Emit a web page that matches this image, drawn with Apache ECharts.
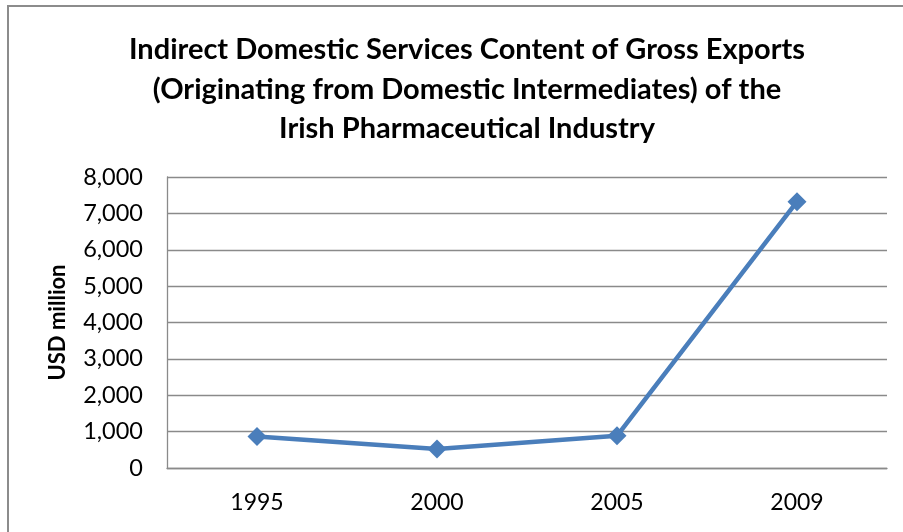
<!DOCTYPE html>
<html>
<head>
<meta charset="utf-8">
<script src="https://cdn.jsdelivr.net/npm/echarts@6/dist/echarts.min.js"></script>
<style>
html,body{margin:0;padding:0;background:#fff;}
#c{width:903px;height:532px;}
</style>
</head>
<body>
<div id="c"></div>
<script>
var titleLines = ['Indirect Domestic Services Content of Gross Exports', '(Originating from Domestic Intermediates) of the', 'Irish Pharmaceutical Industry'];
var years = ['1995', '2000', '2005', '2009'];
var values = [865, 520, 885, 7320];
var yTicks = [0, 1000, 2000, 3000, 4000, 5000, 6000, 7000, 8000];
var yName = 'USD million';

var chart = echarts.init(document.getElementById('c'), null, {renderer: 'canvas'});
var font = 'Lato';
chart.setOption({
  animation: false,
  backgroundColor: '#fff',
  title: {
    text: titleLines.join('\n'),
    left: 462,
    textAlign: 'center',
    top: 25,
    textStyle: {fontFamily: font, fontWeight: 'bold', fontSize: 29, lineHeight: 39.5, color: '#000'}
  },
  graphic: [{
    type: 'rect',
    shape: {x: 8, y: 6, width: 1000, height: 700},
    style: {fill: 'none', stroke: '#8c8c8c', lineWidth: 2},
    silent: true
  }],
  grid: {left: 167, right: 16, top: 177, bottom: 64, containLabel: false},
  xAxis: {
    type: 'category',
    data: years,
    boundaryGap: true,
    axisLine: {lineStyle: {color: '#8a8a8a', width: 1.3}},
    axisTick: {show: false},
    axisLabel: {fontFamily: font, fontSize: 23, color: '#000', margin: 23}
  },
  yAxis: {
    type: 'value',
    min: yTicks[0],
    max: yTicks[yTicks.length - 1],
    interval: 1000,
    name: yName,
    nameLocation: 'middle',
    nameGap: 98,
    nameRotate: 90,
    nameTextStyle: {fontFamily: font, fontWeight: 'bold', fontSize: 22, color: '#000'},
    axisLine: {show: true, lineStyle: {color: '#8a8a8a', width: 1.3}},
    axisTick: {show: false},
    splitLine: {lineStyle: {color: '#8a8a8a', width: 1.3}},
    axisLabel: {
      fontFamily: font, fontSize: 23.5, color: '#000', margin: 24,
      formatter: function (v) { return v.toLocaleString('en-US'); }
    }
  },
  series: [{
    type: 'line',
    data: values,
    lineStyle: {color: '#4a7ebb', width: 4.5},
    itemStyle: {color: '#4a7ebb'},
    symbol: 'diamond',
    symbolSize: 19,
    z: 3
  }]
});
</script>
</body>
</html>
